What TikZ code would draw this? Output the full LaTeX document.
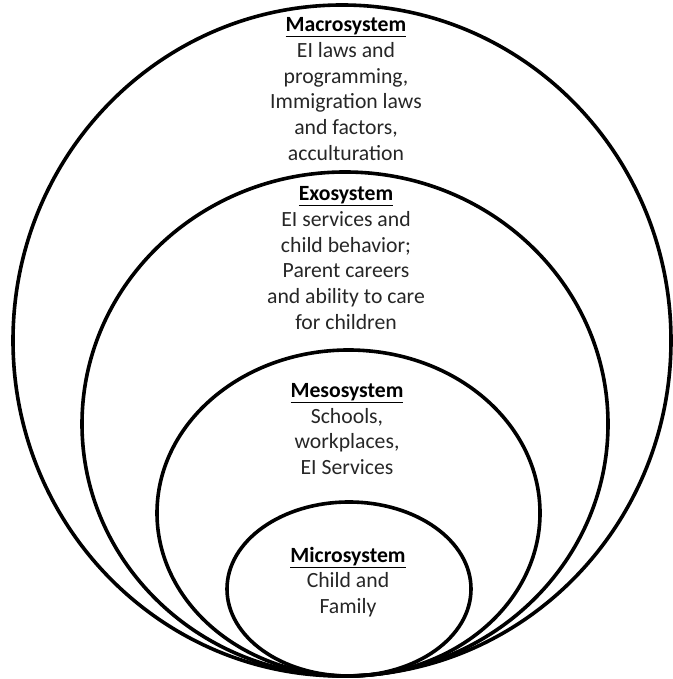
\documentclass[tikz,border=0pt]{standalone}
\usepackage{fontspec}
\setmainfont{Carlito}
\begin{document}
\begin{tikzpicture}[x=1pt,y=1pt,
  ring/.style={draw=black,line width=3.6pt},
  lbl/.style={align=center,inner sep=0pt,text=black!85,font=\fontsize{21.7}{25.8}\selectfont},
]
\useasboundingbox (0,0) rectangle (672,679);
\draw[ring] (342,338.5) ellipse [x radius=329, y radius=335.5];
\draw[ring] (345,255) ellipse [x radius=263, y radius=252];
\draw[ring] (348.5,166) ellipse [x radius=191.5, y radius=163];
\draw[ring] (349,90) ellipse [x radius=122, y radius=87];
\node[lbl] (macro) at (346,590) {\textcolor{black}{\textbf{\underline{Macrosystem}}}\\EI laws and\\programming,\\Immigration laws\\and factors,\\acculturation};
\node[lbl] (exo) at (346,421) {\textcolor{black}{\textbf{\underline{Exosystem}}}\\EI services and\\child behavior;\\Parent careers\\and ability to care\\for children};
\node[lbl] (meso) at (347,250) {\textcolor{black}{\textbf{\underline{Mesosystem}}}\\Schools,\\workplaces,\\EI Services};
\node[lbl] (micro) at (348,97) {\textcolor{black}{\textbf{\underline{Microsystem}}}\\Child and\\Family};
\end{tikzpicture}
\end{document}
